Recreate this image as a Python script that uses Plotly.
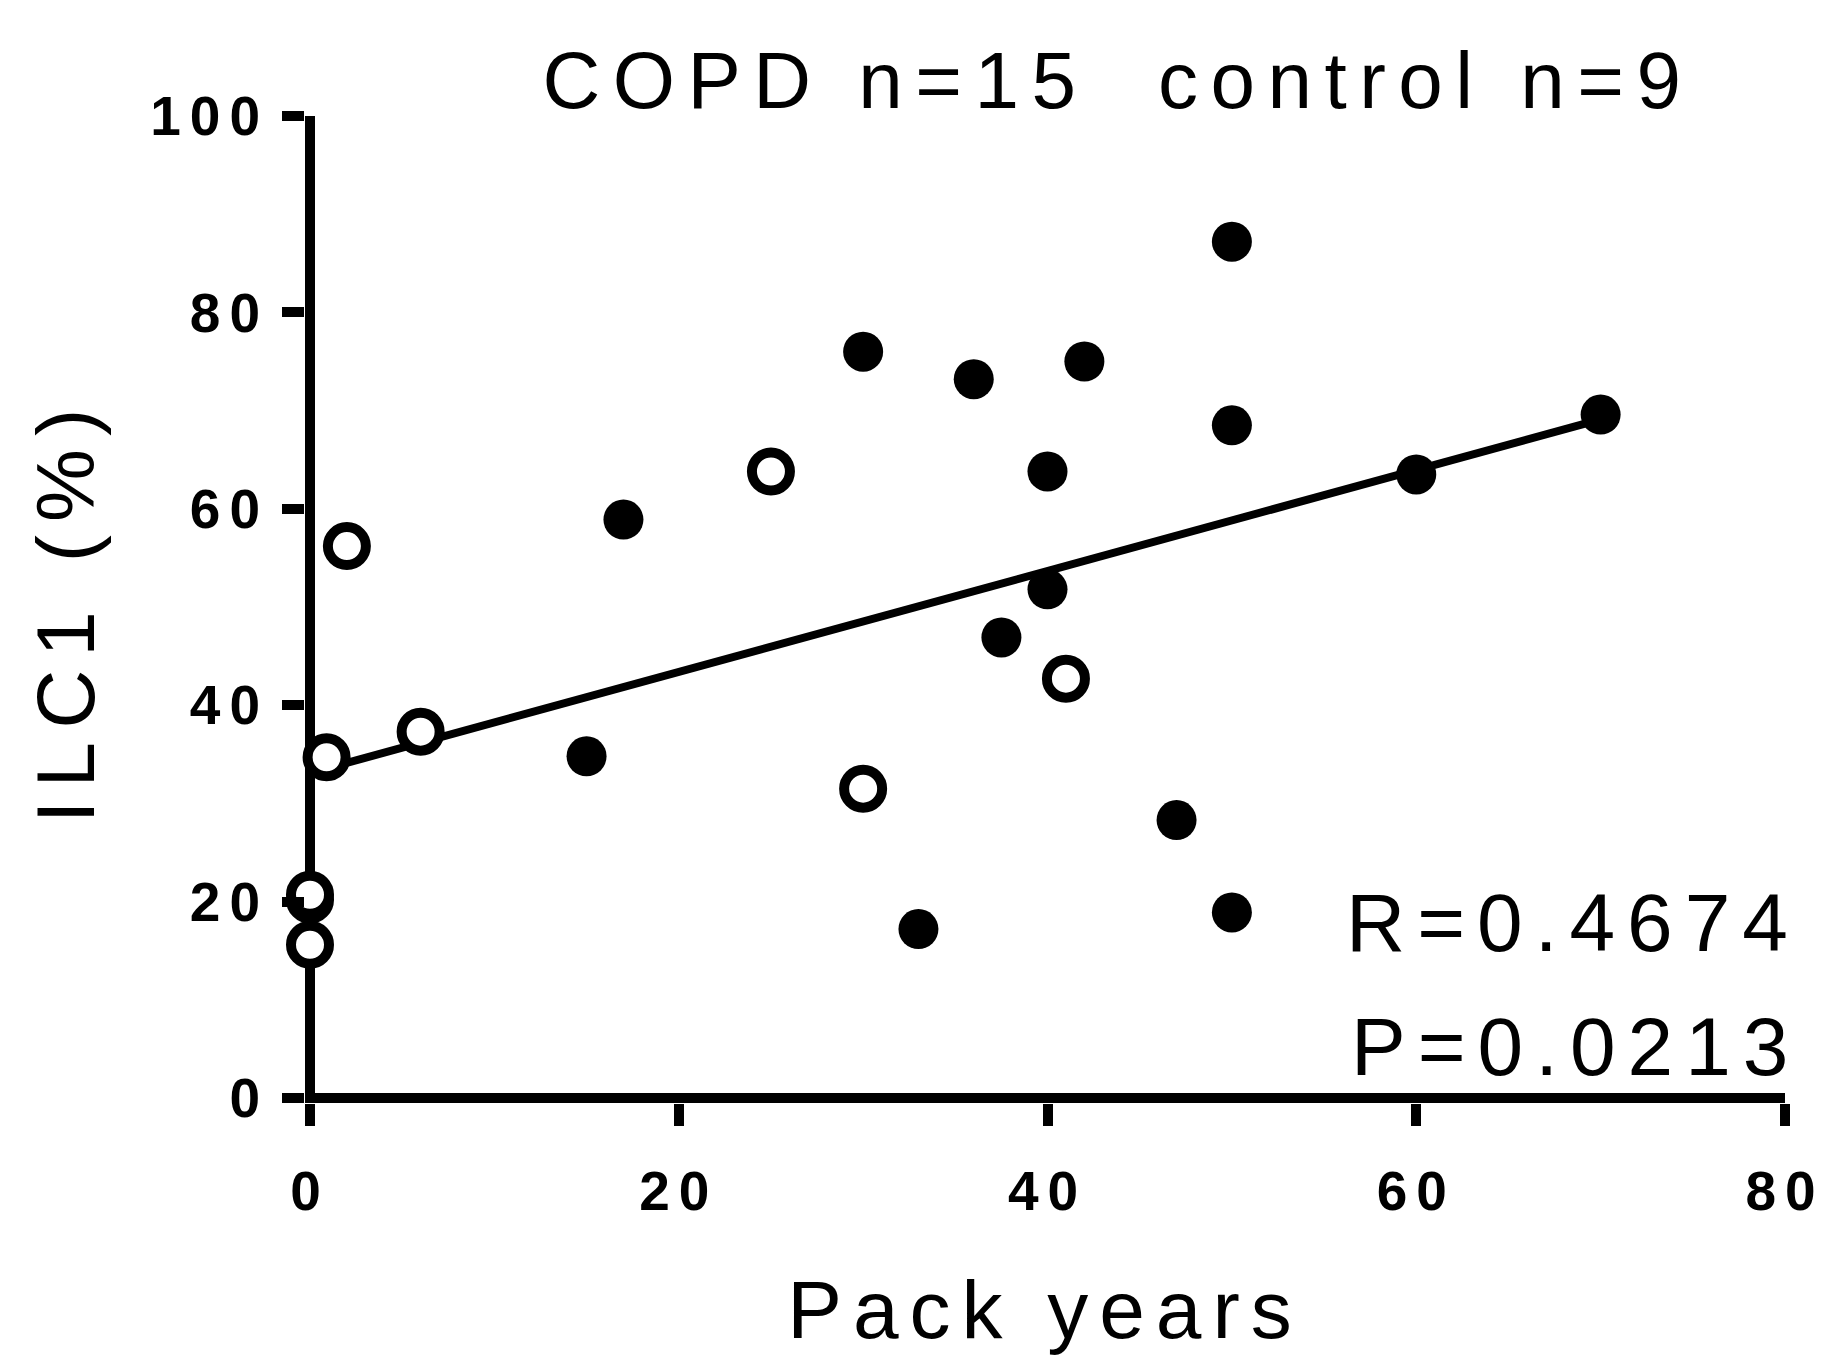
import plotly.graph_objects as go

# ---- data ----
copd_x = [30, 36, 42, 50, 50, 40, 40, 37.5, 60, 70, 47, 33, 50, 17, 15]
copd_y = [76.0, 73.2, 75.0, 87.2, 68.5, 63.8, 51.8, 46.9, 63.5, 69.6, 28.3, 17.2, 18.9, 58.9, 34.8]

control_x = [0, 0, 0, 0.9, 2, 6, 25, 30, 41]
control_y = [20.2, 20.7, 15.6, 34.7, 56.2, 37.3, 63.8, 31.5, 42.7]

fit_x = [0, 70]
fit_y = [33.1, 69.1]

x_ticks = [0, 20, 40, 60, 80]
y_ticks = [0, 20, 40, 60, 80, 100]

title_text = "COPD n=15  control n=9"
stat_lines = ["R=0.4674", "P=0.0213"]

FONT = "Liberation Sans, Arial, sans-serif"

fig = go.Figure()

fig.add_trace(go.Scatter(
    x=fit_x, y=fit_y, mode="lines",
    line=dict(color="black", width=8),
    showlegend=False, hoverinfo="skip", cliponaxis=False,
))

fig.add_trace(go.Scatter(
    x=copd_x, y=copd_y, mode="markers", name="COPD",
    marker=dict(symbol="circle", size=40, color="black", line=dict(width=0)),
    showlegend=False, cliponaxis=False,
))

fig.add_trace(go.Scatter(
    x=control_x, y=control_y, mode="markers", name="control",
    marker=dict(symbol="circle", size=38, color="white",
                line=dict(color="black", width=10)),
    showlegend=False, cliponaxis=False,
))

# axis lines are drawn as zero lines so that they sit exactly on x=0 / y=0
axis_common = dict(
    showgrid=False,
    zeroline=True, zerolinecolor="black", zerolinewidth=10,
    showline=False,
    ticks="outside", ticklen=22, tickwidth=10, tickcolor="black",
    tickfont=dict(family=FONT, size=55, color="black", weight="bold"),
)

fig.update_xaxes(
    range=[-0.2712, 80], tickvals=x_ticks, ticktext=[str(v) for v in x_ticks],
    ticklabelstandoff=18,
    title=dict(text="Pack years", font=dict(family=FONT, size=82, color="black"),
               standoff=60),
    **axis_common,
)
fig.update_yaxes(
    range=[-0.509, 100], tickvals=y_ticks, ticktext=[str(v) for v in y_ticks],
    ticklabelstandoff=2,
    title=dict(text="ILC1 (%)", font=dict(family=FONT, size=82, color="black"),
               standoff=55),
    **axis_common,
)

for i, txt in enumerate(stat_lines):
    fig.add_annotation(
        x=1.0116, y=[0.183, 0.057][i], xref="paper", yref="paper",
        text=txt, showarrow=False, xanchor="right", yanchor="middle", align="right",
        font=dict(family=FONT, size=82, color="black"),
    )

fig.update_layout(
    width=1831, height=1355,
    margin=dict(l=305, r=46, t=116, b=252),
    paper_bgcolor="white", plot_bgcolor="white",
    title=dict(text=title_text, x=0.6106, xref="container", xanchor="center",
               y=0.9406, yref="container", yanchor="middle",
               font=dict(family=FONT, size=80, color="black")),
    showlegend=False,
)

post = """
var s = document.createElement('style');
s.textContent = '.xtick text, .ytick text {letter-spacing: 9px;} text.gtitle {letter-spacing: 12.5px;} text.xtitle {letter-spacing: 11px;} text.ytitle {letter-spacing: 13px;} text.annotation-text {letter-spacing: 12px;}';
document.head.appendChild(s);
"""

fig.write_html("out.html", post_script=post)
